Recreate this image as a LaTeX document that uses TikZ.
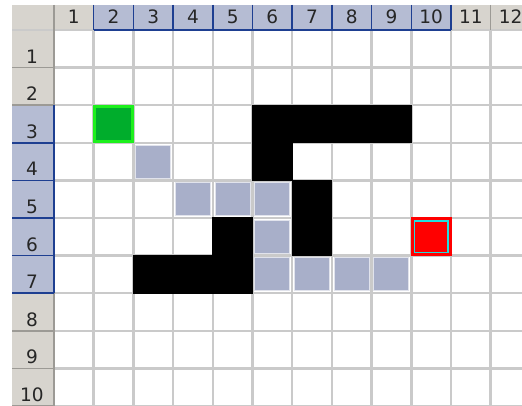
\documentclass[tikz,border=0pt]{standalone}
\usepackage{fontspec}
\setmainfont{DejaVu Sans}
\definecolor{hdrgray}{HTML}{D7D4CE}
\definecolor{hdrsel}{HTML}{B5BCD3}
\definecolor{hdrblue}{HTML}{1E3F91}
\definecolor{hdrline}{HTML}{9C9A95}
\definecolor{gridgray}{HTML}{CACACA}
\definecolor{pathblue}{HTML}{A8AFC9}
\definecolor{startfill}{HTML}{00AD2C}
\definecolor{startedge}{HTML}{1DF01D}
\definecolor{goalinner}{HTML}{22DDDD}

\begin{document}
\begin{tikzpicture}[x=1pt,y=-1pt,
  lbl/.style={font=\fontsize{18.5}{22}\selectfont,text=black!85,inner sep=0pt,anchor=base},
  gridln/.style={gridgray,line width=2.5pt},
  wall/.style={fill=black},
  pathcell/.style={draw=white!65!pathblue,line width=1pt,fill=pathblue,minimum width=35pt,minimum height=33pt,inner sep=0pt},
  start/.style={draw=startedge,line width=3pt,fill=startfill,minimum width=37.5pt,minimum height=35.5pt,inner sep=0pt},
  goal/.style={fill=red,minimum width=41pt,minimum height=39pt,inner sep=0pt}]
\useasboundingbox (0,0) rectangle (522,406);
\clip (0,0) rectangle (522,406);
\fill[white] (0,0) rectangle (522,406);
% headers
\fill[hdrgray] (12,5) rectangle (54,30);
\foreach \c in {1,11,12}
  \fill[hdrgray] ({54+(\c-1)*39.7},5) rectangle ({54+\c*39.7},30);
\foreach \c in {2,...,10}
  \fill[hdrsel] ({54+(\c-1)*39.7},5) rectangle ({54+\c*39.7},30);
\foreach \r in {1,2,8,9,10}
  \fill[hdrgray] (12,{30+(\r-1)*37.6}) rectangle (54,{30+\r*37.6});
\foreach \r in {3,...,7}
  \fill[hdrsel] (12,{30+(\r-1)*37.6}) rectangle (54,{30+\r*37.6});
% cell grid
\foreach \c in {1,...,12}
  \draw[gridln] ({54+\c*39.7},30) -- ({54+\c*39.7},406);
\foreach \r in {1,...,10}
  \draw[gridln] (54,{30+\r*37.6}) -- (522,{30+\r*37.6});
\draw[gridln] (12,30) -- (522,30);
% header separators
\foreach \c in {0,...,12}
  \draw[hdrline,line width=1.5pt] ({54+\c*39.7},5) -- ({54+\c*39.7},30);
\foreach \r in {1,...,10}
  \draw[hdrline,line width=1.5pt] (12,{30+\r*37.6}) -- (54,{30+\r*37.6});
\draw[hdrline,line width=1.5pt] (54,30) -- (54,406);
\foreach \c in {1,...,10}
  \draw[hdrblue,line width=1.5pt] ({54+\c*39.7},5) -- ({54+\c*39.7},30);
\draw[hdrblue,line width=2pt] ({54+39.7},30) -- ({54+10*39.7},30);
\foreach \r in {3,...,7}
  \draw[hdrblue,line width=1.5pt] (12,{30+\r*37.6}) -- (54,{30+\r*37.6});
\draw[hdrblue,line width=2pt] (54,{30+2*37.6}) -- (54,{30+7*37.6});
% header labels
\foreach \c in {1,...,12}
  \node[lbl] (ch\c) at ({54+(\c-.5)*39.7},23.5) {\c};
\foreach \r in {1,...,10}
  \node[lbl] (rh\r) at (32,{30+\r*37.6-4.5}) {\r};
% walls
\foreach \c/\r in {6/3,7/3,8/3,9/3,6/4,7/5,7/6,5/6,3/7,4/7,5/7}
  \fill[wall] ({54+(\c-1)*39.7-.5},{30+(\r-1)*37.6-.5}) rectangle ({54+\c*39.7+.5},{30+\r*37.6+.5});
% path
\foreach \c/\r [count=\i] in {3/4,4/5,5/5,6/5,6/6,6/7,7/7,8/7,9/7}
  \node[pathcell] (p\i) at ({54+(\c-.5)*39.7},{30+(\r-.5)*37.6}) {};
\node[start] (start) at ({54+1.5*39.7},{30+2.5*37.6}) {};
\node[goal] (goal) at ({54+9.5*39.7},{30+5.5*37.6}) {};
\draw[goalinner,line width=1.5pt] ([shift={(4,4)}]goal.north west) rectangle ([shift={(-4,-4)}]goal.south east);
\end{tikzpicture}
\end{document}
